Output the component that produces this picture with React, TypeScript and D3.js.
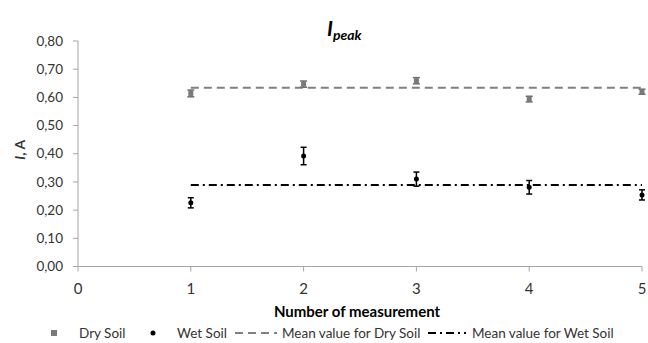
import React from 'react';
import { scaleLinear, format } from 'd3';

const measurements = [1, 2, 3, 4, 5];
const drySoil = [0.614, 0.647, 0.659, 0.594, 0.62];
const dryErr = [0.012, 0.011, 0.011, 0.01, 0.009];
const wetSoil = [0.226, 0.392, 0.31, 0.281, 0.254];
const wetErr = [0.018, 0.031, 0.025, 0.024, 0.018];
const meanDry = 0.634;
const meanWet = 0.289;
const xTicks = [0, 1, 2, 3, 4, 5];
const yTicks = [0, 0.1, 0.2, 0.3, 0.4, 0.5, 0.6, 0.7, 0.8];

const width = 648;
const height = 343;
const margin = { top: 41, right: 6, bottom: 76.5, left: 78 };
const font = 'Lato, "Open Sans", sans-serif';
const textColor = '#333';
const axisColor = '#a6a6a6';

function App() {
  const x = scaleLinear().domain([0, 5]).range([margin.left, width - margin.right]);
  const y = scaleLinear().domain([0, 0.8]).range([height - margin.bottom, margin.top]);
  const fmt = (v: number) => format('.2f')(v).replace('.', ',');
  const x0 = x(0);
  const y0 = y(0);

  return (
    <svg width={width} height={height} style={{ position: 'absolute', left: 0, top: 0, background: '#fff' }}
      fontFamily={font}>
      {/* title */}
      <text x={327} y={36} fill="#000" fontWeight="bold" fontStyle="italic">
        <tspan fontSize={21}>I</tspan>
        <tspan fontSize={14} dy={4}>peak</tspan>
      </text>

      {/* y axis */}
      <line x1={x0} x2={x0} y1={y(0.8)} y2={y0} stroke={axisColor} />
      {yTicks.map(t => (
        <g key={t}>
          <line x1={x0 - 5} x2={x0} y1={y(t)} y2={y(t)} stroke={axisColor} />
          <text x={63} y={y(t)} dy="0.35em" textAnchor="end" fontSize={13.5} fill={textColor}>{fmt(t)}</text>
        </g>
      ))}
      <text transform={`translate(25, ${y(0.4) - 4}) rotate(-90)`} textAnchor="middle" fontSize={14}
        fontWeight="bold" fill={textColor}>
        <tspan fontStyle="italic">I</tspan>, A
      </text>

      {/* x axis */}
      <line x1={x0} x2={x(5)} y1={y0} y2={y0} stroke={axisColor} />
      {xTicks.map(t => (
        <g key={t}>
          <line x1={x(t)} x2={x(t)} y1={y0} y2={y0 + 5} stroke={axisColor} />
          <text x={x(t)} y={y0 + 27} textAnchor="middle" fontSize={15} fill={textColor}>{t}</text>
        </g>
      ))}
      <text x={357} y={317} textAnchor="middle" fontSize={15} fontWeight="bold" fill="#000">
        Number of measurement
      </text>

      {/* mean lines */}
      <line x1={x(1)} x2={x(5)} y1={y(meanDry)} y2={y(meanDry)} stroke="#808080" strokeWidth={2}
        strokeDasharray="8,5" />
      <line x1={x(1)} x2={x(5)} y1={y(meanWet)} y2={y(meanWet)} stroke="#000" strokeWidth={2}
        strokeDasharray="8,4,2,4" />

      {/* dry soil */}
      {measurements.map((m, i) => (
        <g key={'d' + m} stroke="#6e6e6e" fill="#7a7a7a">
          <line x1={x(m)} x2={x(m)} y1={y(drySoil[i] - dryErr[i])} y2={y(drySoil[i] + dryErr[i])} strokeWidth={1.5} />
          <line x1={x(m) - 3.5} x2={x(m) + 3.5} y1={y(drySoil[i] - dryErr[i])} y2={y(drySoil[i] - dryErr[i])} strokeWidth={1.5} />
          <line x1={x(m) - 3.5} x2={x(m) + 3.5} y1={y(drySoil[i] + dryErr[i])} y2={y(drySoil[i] + dryErr[i])} strokeWidth={1.5} />
          <rect x={x(m) - 2.5} y={y(drySoil[i]) - 2.5} width={5} height={5} stroke="none" />
        </g>
      ))}

      {/* wet soil */}
      {measurements.map((m, i) => (
        <g key={'w' + m} stroke="#000" fill="#000">
          <line x1={x(m)} x2={x(m)} y1={y(wetSoil[i] - wetErr[i])} y2={y(wetSoil[i] + wetErr[i])} strokeWidth={1.5} />
          <line x1={x(m) - 3} x2={x(m) + 3} y1={y(wetSoil[i] - wetErr[i])} y2={y(wetSoil[i] - wetErr[i])} strokeWidth={1.5} />
          <line x1={x(m) - 3} x2={x(m) + 3} y1={y(wetSoil[i] + wetErr[i])} y2={y(wetSoil[i] + wetErr[i])} strokeWidth={1.5} />
          <circle cx={x(m)} cy={y(wetSoil[i])} r={2.5} stroke="none" />
        </g>
      ))}

      {/* legend */}
      <g fontSize={13.5} fill={textColor}>
        <rect x={51} y={330} width={6} height={6} fill="#7a7a7a" />
        <text x={79} y={333} dy="0.35em">Dry Soil</text>
        <circle cx={153} cy={333} r={2.5} fill="#000" />
        <text x={177} y={333} dy="0.35em">Wet Soil</text>
        <line x1={235} x2={277} y1={333} y2={333} stroke="#808080" strokeWidth={2} strokeDasharray="8,5" />
        <text x={282} y={333} dy="0.35em">Mean value for Dry Soil</text>
        <line x1={428} x2={466} y1={333} y2={333} stroke="#000" strokeWidth={2} strokeDasharray="8,4,2,4" />
        <text x={472} y={333} dy="0.35em">Mean value for Wet Soil</text>
      </g>
    </svg>
  );
}

export default App;
